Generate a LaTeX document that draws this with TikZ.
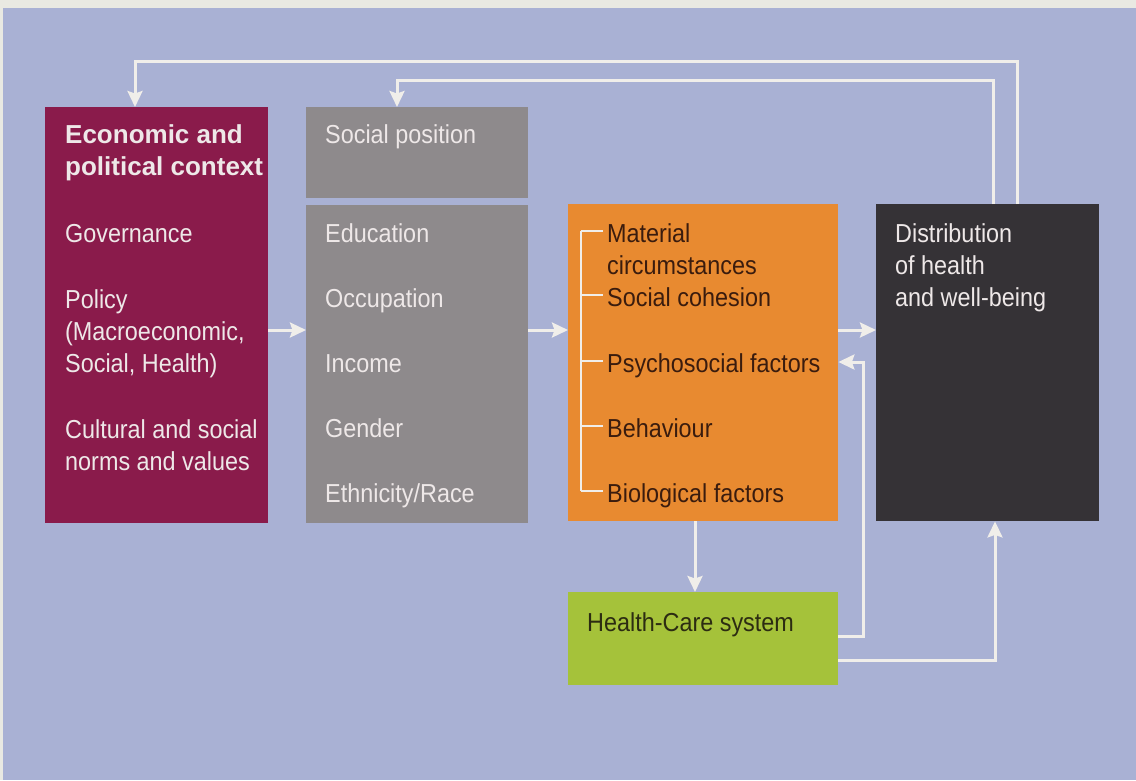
\documentclass[tikz,border=0pt]{standalone}
\usepackage{fontspec}
\setmainfont{Liberation Sans}[FakeStretch=0.9]
\newfontfamily\headfont{Liberation Sans}
\usetikzlibrary{arrows.meta}

\definecolor{paper}{HTML}{E9E9E2}
\definecolor{bgblue}{HTML}{A9B1D4}
\definecolor{wine}{HTML}{8A1B4B}
\definecolor{stone}{HTML}{8E8A8C}
\definecolor{amber}{HTML}{E88A30}
\definecolor{charcoal}{HTML}{353236}
\definecolor{lime}{HTML}{A5C23A}
\definecolor{pale}{HTML}{F0EEEA}
\definecolor{lighttext}{HTML}{EEE8E8}
\definecolor{darktext}{HTML}{3A1C0E}
\definecolor{greentext}{HTML}{2C2C12}

\tikzset{
  panel/.style={draw=none, anchor=north west, inner sep=0pt},
  lbl/.style={anchor=base west, inner sep=0pt, font=\fontsize{26}{32}\selectfont},
  lightlbl/.style={lbl, text=lighttext},
  darklbl/.style={lbl, text=darktext},
  headlbl/.style={anchor=base west, inner sep=0pt, text=lighttext,
    font=\headfont\bfseries\fontsize{26}{32}\selectfont},
  flow/.style={draw=pale, line width=3pt,
    -{Stealth[length=16pt, width=15pt, inset=2.5pt]}},
  tick/.style={draw=pale, line width=2pt}
}

\begin{document}
\begin{tikzpicture}[x=1pt, y=-1pt]
  % page and background
  \fill[paper] (0,0) rectangle (1136,780);
  \fill[bgblue] (3,8) rectangle (1136,780);
  \useasboundingbox (0,0) rectangle (1136,780);

  % boxes
  \node[panel, fill=wine, minimum width=223pt, minimum height=416pt] (econ) at (45,107) {};
  \node[panel, fill=stone, minimum width=222pt, minimum height=91pt] (pos) at (306,107) {};
  \node[panel, fill=stone, minimum width=222pt, minimum height=318pt] (strat) at (306,205) {};
  \node[panel, fill=amber, minimum width=270pt, minimum height=317pt] (inter) at (568,204) {};
  \node[panel, fill=charcoal, minimum width=223pt, minimum height=317pt] (dist) at (876,204) {};
  \node[panel, fill=lime, minimum width=270pt, minimum height=93pt] (hcs) at (568,592) {};

  % economic and political context
  \node[headlbl] (e1) at (65,143) {Economic and};
  \node[headlbl] (e2) at (65,175) {political context};
  \node[lightlbl] (e3) at (65,242) {Governance};
  \node[lightlbl] (e4) at (65,308) {Policy};
  \node[lightlbl] (e5) at (65,340) {(Macroeconomic,};
  \node[lightlbl] (e6) at (65,372) {Social, Health)};
  \node[lightlbl] (e7) at (65,438) {Cultural and social};
  \node[lightlbl] (e8) at (65,470) {norms and values};

  % social position
  \node[lightlbl] (p1) at (325,143) {Social position};
  \node[lightlbl] (s1) at (325,242) {Education};
  \node[lightlbl] (s2) at (325,307) {Occupation};
  \node[lightlbl] (s3) at (325,372) {Income};
  \node[lightlbl] (s4) at (325,437) {Gender};
  \node[lightlbl] (s5) at (325,502) {Ethnicity/Race};

  % intermediary factors
  \node[darklbl] (i1) at (607,242) {Material};
  \node[darklbl] (i2) at (607,274) {circumstances};
  \node[darklbl] (i3) at (607,306) {Social cohesion};
  \node[darklbl] (i4) at (607,372) {Psychosocial factors};
  \node[darklbl] (i5) at (607,437) {Behaviour};
  \node[darklbl] (i6) at (607,502) {Biological factors};

  % bracket joining the factors
  \coordinate (bt) at (581,231);
  \coordinate (bb) at (581,491);
  \draw[tick] (bt) -- (bb);
  \foreach \n/\yy in {i1/231, i3/295, i4/361, i5/426, i6/491}
    \draw[tick] (581,\yy) -- ([xshift=-4pt]\n.west |- 0,\yy);

  % distribution of health
  \node[lightlbl] (d1) at (895,242) {Distribution};
  \node[lightlbl] (d2) at (895,274) {of health};
  \node[lightlbl] (d3) at (895,306) {and well-being};

  % health-care system
  \node[lbl, text=greentext] (h1) at (587,631) {Health-Care system};

  % forward arrows
  \coordinate (row) at (0,330);
  \draw[flow] (econ.east |- row) -- (strat.west |- row);
  \draw[flow] (strat.east |- row) -- (inter.west |- row);
  \draw[flow] (inter.east |- row) -- (dist.west |- row);
  \coordinate (down) at (695,0);
  \draw[flow] (inter.south -| down) -- (hcs.north -| down);

  % health-care feedback
  \coordinate (hc1) at (863,636);
  \coordinate (hc2) at (863,362);
  \draw[flow] (hcs.east |- hc1) -- (hc1) -- (hc2) -- (inter.east |- hc2);
  \coordinate (hc3) at (995,660);
  \draw[flow] (hcs.east |- hc3) -- (hc3) -- (dist.south -| hc3);

  % feedback loops along the top
  \coordinate (o1) at (1017,61);
  \coordinate (o2) at (135,61);
  \draw[flow] (dist.north -| o1) -- (o1) -- (o2) -- (econ.north -| o2);
  \coordinate (n1) at (993,80);
  \coordinate (n2) at (397,80);
  \draw[flow] (dist.north -| n1) -- (n1) -- (n2) -- (pos.north -| n2);
\end{tikzpicture}
\end{document}
